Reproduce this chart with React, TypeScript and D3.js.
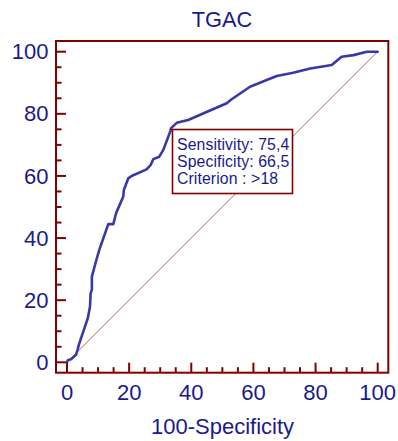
import React from "react";
import * as d3 from "d3";

// ROC curve points: 100-Specificity (x) vs Sensitivity (y)
const fpr = [0, 0.3, 1.3, 2.9, 3.4, 3.8, 6.7, 7.4, 7.6, 8, 8, 9.6, 10.4, 12.8, 13.3, 14.9, 15.8, 16.2, 18.1, 18.3, 19.7, 20.8, 25.6, 26.9, 27.8, 29.7, 31, 33.2, 33.5, 35.3, 39, 51.4, 53, 58.9, 67.5, 72.8, 78.3, 85.2, 88.4, 92.2, 96.5, 100];
const tpr = [0, 0.7, 1, 2.4, 4, 5.6, 14.2, 17.9, 22.2, 23.3, 27.6, 33.5, 36.2, 43.1, 44.5, 44.5, 48, 49, 53.3, 55.5, 59.2, 60, 62.1, 63.5, 65.4, 66.2, 68.4, 74.2, 75.4, 77.1, 78, 83.4, 84.7, 88.7, 92.2, 93.2, 94.6, 95.7, 98.4, 98.9, 100, 100];

const title = "TGAC";
const xTitle = "100-Specificity";
const majorTicks = [0, 20, 40, 60, 80, 100];
const minorTicks = d3.range(0, 101, 5);
const infoLines = ["Sensitivity: 75,4", "Specificity: 66,5", "Criterion : >18"];

const W = 398;
const H = 441;
const frame = { left: 56, right: 388.3, top: 41, bottom: 372.7 };

const navy = "#1a1a8c";
const maroon = "#800000";
const curveColor = "#3838a6";
const font = "'Liberation Sans', Arial, sans-serif";

export default function App() {
  const x = d3.scaleLinear().domain([0, 100]).range([67, 377.7]);
  const y = d3.scaleLinear().domain([0, 100]).range([362.3, 51.7]);

  const pts: [number, number][] = fpr.map((v, i) => [v, tpr[i]]);
  const line = d3
    .line<[number, number]>()
    .x((d) => x(d[0]))
    .y((d) => y(d[1]));

  const box = { x: 172.5, y: 129.5, w: 120, h: 64 };

  return (
    <svg
      width={W}
      height={H}
      style={{ position: "absolute", left: 0, top: 0, background: "#fff" }}
      fontFamily={font}
    >
      <rect x={0} y={0} width={W} height={H} fill="#fff" />
      {/* title */}
      <text x={222} y={26.7} textAnchor="middle" fontSize={21.8} fill={navy}>
        {title}
      </text>

      {/* reference diagonal */}
      <line
        x1={x(0)}
        y1={y(0)}
        x2={x(100)}
        y2={y(100)}
        stroke="#9a2020"
        strokeWidth={0.7}
      />

      {/* ROC curve */}
      <path
        d={line(pts) || ""}
        fill="none"
        stroke={curveColor}
        strokeWidth={2.6}
        strokeLinejoin="round"
        strokeLinecap="round"
      />

      {/* ticks pointing into the plot */}
      {minorTicks.map((t) => {
        const major = t % 20 === 0;
        const len = major ? 10 : 5.5;
        return (
          <g key={"t" + t}>
            <line
              x1={frame.left}
              x2={frame.left + len}
              y1={y(t)}
              y2={y(t)}
              stroke={maroon}
              strokeWidth={2}
            />
            <line
              x1={x(t)}
              x2={x(t)}
              y1={frame.bottom}
              y2={frame.bottom - len}
              stroke={maroon}
              strokeWidth={2}
            />
          </g>
        );
      })}

      {/* frame */}
      <rect
        x={frame.left}
        y={frame.top}
        width={frame.right - frame.left}
        height={frame.bottom - frame.top}
        fill="none"
        stroke={maroon}
        strokeWidth={2}
      />

      {/* axis labels */}
      {majorTicks.map((t) => (
        <text
          key={"yl" + t}
          x={48.5}
          y={y(t) + 7.6}
          textAnchor="end"
          fontSize={22}
          fill={navy}
        >
          {t}
        </text>
      ))}
      {majorTicks.map((t) => (
        <text
          key={"xl" + t}
          x={x(t)}
          y={400}
          textAnchor="middle"
          fontSize={22}
          fill={navy}
        >
          {t}
        </text>
      ))}
      <text x={222.5} y={433.5} textAnchor="middle" fontSize={22} fill={navy}>
        {xTitle}
      </text>

      {/* criterion info box */}
      <rect
        x={box.x}
        y={box.y}
        width={box.w}
        height={box.h}
        fill="#fff"
        stroke={maroon}
        strokeWidth={1.6}
      />
      {infoLines.map((s, i) => (
        <text
          key={s}
          x={177}
          y={149.5 + i * 17}
          fontSize={15.8}
          letterSpacing={0.1}
          fill={navy}
        >
          {s}
        </text>
      ))}
    </svg>
  );
}
